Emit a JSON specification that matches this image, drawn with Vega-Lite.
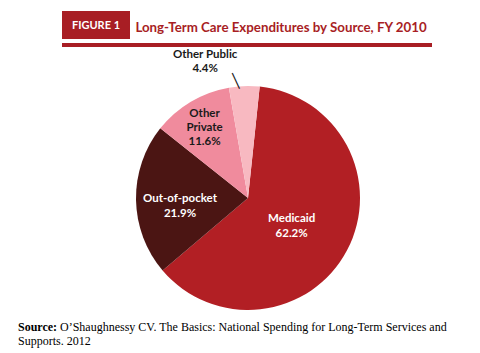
{
  "$schema": "https://vega.github.io/schema/vega-lite/v6.json",
  "padding": {"left": 18, "top": 5, "right": 0, "bottom": 0},
  "background": "white",
  "config": {"view": {"stroke": null}},
  "spacing": -1,
  "vconcat": [
    {
      "spacing": 0,
      "hconcat": [
        {
          "width": 44, "height": 1,
          "data": {"values": [{"t": ""}]},
          "mark": {"type": "text"},
          "encoding": {"text": {"field": "t"}}
        },
        {
          "spacing": 0,
          "vconcat": [
            {
              "spacing": 0,
              "hconcat": [
                {
                  "width": 68, "height": 28,
                  "view": {"fill": "#A81E24", "stroke": null},
                  "data": {"values": [{"t": "FIGURE 1"}]},
                  "mark": {"type": "text", "color": "white", "font": "Lato", "fontWeight": "bold", "fontSize": 11, "dy": 1},
                  "encoding": {"text": {"field": "t"}}
                },
                {
                  "width": 302, "height": 28,
                  "data": {"values": [{"t": "Long-Term Care Expenditures by Source, FY 2010"}]},
                  "mark": {"type": "text", "color": "#A81E24", "font": "Lato", "fontWeight": "bold", "fontSize": 13.3, "dy": 3},
                  "encoding": {"text": {"field": "t"}}
                }
              ]
            },
            {
              "width": 370, "height": 4,
              "view": {"fill": "#A81E24", "stroke": null},
              "data": {"values": [{"t": ""}]},
              "mark": {"type": "text"},
              "encoding": {"text": {"field": "t"}}
            }
          ]
        }
      ]
    },
    {
      "spacing": 5,
      "vconcat": [
        {
          "width": 460, "height": 234,
          "data": {"values": [
            {"source": "Medicaid", "share": 0.622, "rank": 1, "label": ["Medicaid", "62.2%"]},
            {"source": "Out-of-pocket", "share": 0.219, "rank": 2, "label": ["Out-of-pocket", "21.9%"]},
            {"source": "Other Private", "share": 0.116, "rank": 3, "label": ["Other", "Private", "11.6%"]},
            {"source": "Other Public", "share": 0.044, "rank": 4, "label": ["Other Public", "4.4%"]}
          ]},
          "encoding": {
            "theta": {"field": "share", "type": "quantitative", "stack": true, "scale": {"domain": [0, 1.001], "nice": false, "range": [0.1047, 6.3879]}},
            "order": {"field": "rank", "type": "quantitative", "sort": "ascending"},
            "color": {"field": "source", "type": "nominal", "legend": null,
              "scale": {"domain": ["Medicaid", "Out-of-pocket", "Other Private", "Other Public"],
                        "range": ["#B21F24", "#4B1513", "#F08B9D", "#F8B9C1"]}}
          },
          "layer": [
            {"mark": {"type": "arc", "outerRadius": 112}},
            {
              "mark": {"type": "text", "radius": 55, "font": "Lato", "fontWeight": "bold", "fontSize": 11.5, "lineHeight": 15, "dx": -5, "dy": -5},
              "encoding": {"text": {"condition": {"test": "datum.source === 'Medicaid'", "field": "label"}, "value": ""}, "color": {"value": "white"}}
            },
            {
              "mark": {"type": "text", "radius": 80, "font": "Lato", "fontWeight": "bold", "fontSize": 11.5, "lineHeight": 15, "dx": 12},
              "encoding": {"text": {"condition": {"test": "datum.source === 'Out-of-pocket'", "field": "label"}, "value": ""}, "color": {"value": "white"}}
            },
            {
              "mark": {"type": "text", "radius": 91, "font": "Lato", "fontWeight": "bold", "fontSize": 11.5, "lineHeight": 14, "dx": 3, "dy": -6},
              "encoding": {"text": {"condition": {"test": "datum.source === 'Other Private'", "field": "label"}, "value": ""}, "color": {"value": "#1a1a1a"}}
            },
            {
              "mark": {"type": "text", "radius": 146, "font": "Lato", "fontWeight": "bold", "fontSize": 11.5, "lineHeight": 14, "dx": -38, "dy": 3},
              "encoding": {"text": {"condition": {"test": "datum.source === 'Other Public'", "field": "label"}, "value": ""}, "color": {"value": "#1a1a1a"}}
            },
            {
              "mark": {"type": "text", "radius": 121, "font": "DejaVu Sans", "fontSize": 14.5, "angle": -25, "dx": -9, "dy": 1},
              "encoding": {"text": {"condition": {"test": "datum.source === 'Other Public'", "value": "│"}, "value": ""}, "color": {"value": "#1a1a1a"}}
            }
          ]
        },
        {
          "width": 460, "height": 28,
          "data": {"values": [
            {"line": 1, "part": "bold", "text": "Source:"},
            {"line": 1, "part": "rest", "text": "O’Shaughnessy CV. The Basics: National Spending for Long-Term Services and"},
            {"line": 2, "part": "rest", "text": "Supports. 2012"}
          ]},
          "encoding": {
            "x": {"datum": 0, "type": "quantitative", "scale": {"domain": [0, 1]}, "axis": null},
            "y": {"field": "line", "type": "quantitative", "scale": {"domain": [0.5, 2.5], "reverse": true}, "axis": null},
            "text": {"field": "text"}
          },
          "layer": [
            {
              "transform": [{"filter": "datum.part === 'bold'"}],
              "mark": {"type": "text", "align": "left", "font": "Liberation Serif", "fontWeight": "bold", "fontSize": 12, "color": "black"}
            },
            {
              "transform": [{"filter": "datum.part === 'rest' && datum.line === 1"}],
              "mark": {"type": "text", "align": "left", "font": "Liberation Serif", "fontSize": 12, "color": "black", "dx": 42}
            },
            {
              "transform": [{"filter": "datum.part === 'rest' && datum.line === 2"}],
              "mark": {"type": "text", "align": "left", "font": "Liberation Serif", "fontSize": 12, "color": "black"}
            }
          ]
        }
      ]
    }
  ]
}
